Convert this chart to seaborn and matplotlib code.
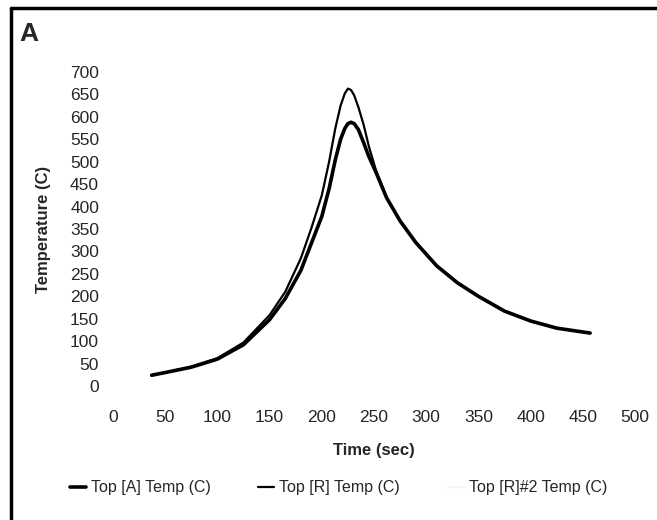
import matplotlib
matplotlib.use('Agg')
import matplotlib.pyplot as plt
import pandas as pd
import seaborn as sns
from matplotlib.lines import Line2D

# values
time_sec = [37, 50, 75, 100, 125, 150, 165, 180, 190, 200, 207, 213, 218, 222, 225,
            228, 231, 235, 240, 245, 252, 262, 275, 290, 310, 330, 350, 375, 400, 425, 457]
top_a = [24, 30, 42, 60, 92, 148, 195, 258, 318, 378, 440, 505, 550, 574, 585,
         588, 585, 572, 543, 512, 476, 420, 368, 320, 268, 230, 200, 167, 145, 129, 118]
top_r = [24, 30, 43, 62, 97, 158, 210, 285, 352, 425, 500, 575, 625, 652, 663,
         660, 648, 622, 583, 535, 480, 420, 368, 320, 268, 230, 200, 167, 145, 129, 118]
top_r2 = [23, 29, 41, 59, 90, 146, 193, 255, 315, 375, 437, 502, 547, 571, 582,
          586, 583, 570, 541, 510, 474, 418, 366, 318, 266, 228, 198, 165, 143, 128, 117]
series_names = ['Top [A] Temp (C)', 'Top [R] Temp (C)', 'Top [R]#2 Temp (C)']

df = pd.DataFrame({'Time': time_sec * 3,
                   'Temp': top_a + top_r + top_r2,
                   'Series': [series_names[0]] * len(time_sec)
                   + [series_names[1]] * len(time_sec)
                   + [series_names[2]] * len(time_sec)})

sns.set_style('white')
plt.rcParams['font.family'] = ['Liberation Sans', 'DejaVu Sans']

fig = plt.figure(figsize=(6.57, 5.20), dpi=100)
ax = fig.add_axes([0.172, 0.2577, 0.7945, 0.6038])

colors = {series_names[0]: 'black', series_names[1]: 'black', series_names[2]: '#f4f4f4'}
widths = {series_names[0]: 2.6, series_names[1]: 1.6, series_names[2]: 2.0}
for name in [series_names[2], series_names[0], series_names[1]]:
    sns.lineplot(data=df[df['Series'] == name], x='Time', y='Temp', ax=ax,
                 color=colors[name], linewidth=widths[name], legend=False)

ax.set_xlim(0, 500)
ax.set_ylim(0, 700)
ax.set_xticks(range(0, 501, 50))
ax.set_yticks(range(0, 701, 50))
ax.tick_params(axis='x', length=0, pad=17, labelsize=12.5)
ax.tick_params(axis='y', length=0, pad=10, labelsize=12.5)
for s in ax.spines.values():
    s.set_visible(False)
ax.set_xlabel('Time (sec)', fontsize=12, fontweight='bold', labelpad=13)
ax.set_ylabel('Temperature (C)', fontsize=12, fontweight='bold', labelpad=14)

handles = [Line2D([], [], color=colors[n], linewidth=widths[n] if n != series_names[2] else 1.5)
           for n in series_names]
fig.legend(handles, series_names, loc='center', bbox_to_anchor=(0.515, 0.062), ncol=3,
           frameon=False, fontsize=11.5, handlelength=1.0, handletextpad=0.3,
           columnspacing=3.0)

fig.text(0.03, 0.935, 'A', fontsize=19, fontweight='bold', va='center', ha='left')

# partial frame (top and left edges)
fig.add_artist(Line2D([0.017, 1.0], [0.985, 0.985], color='black', linewidth=2.5,
                      transform=fig.transFigure))
fig.add_artist(Line2D([0.017, 0.017], [0.0, 0.985], color='black', linewidth=2.5,
                      transform=fig.transFigure))

fig.savefig('out.png', dpi=100)
